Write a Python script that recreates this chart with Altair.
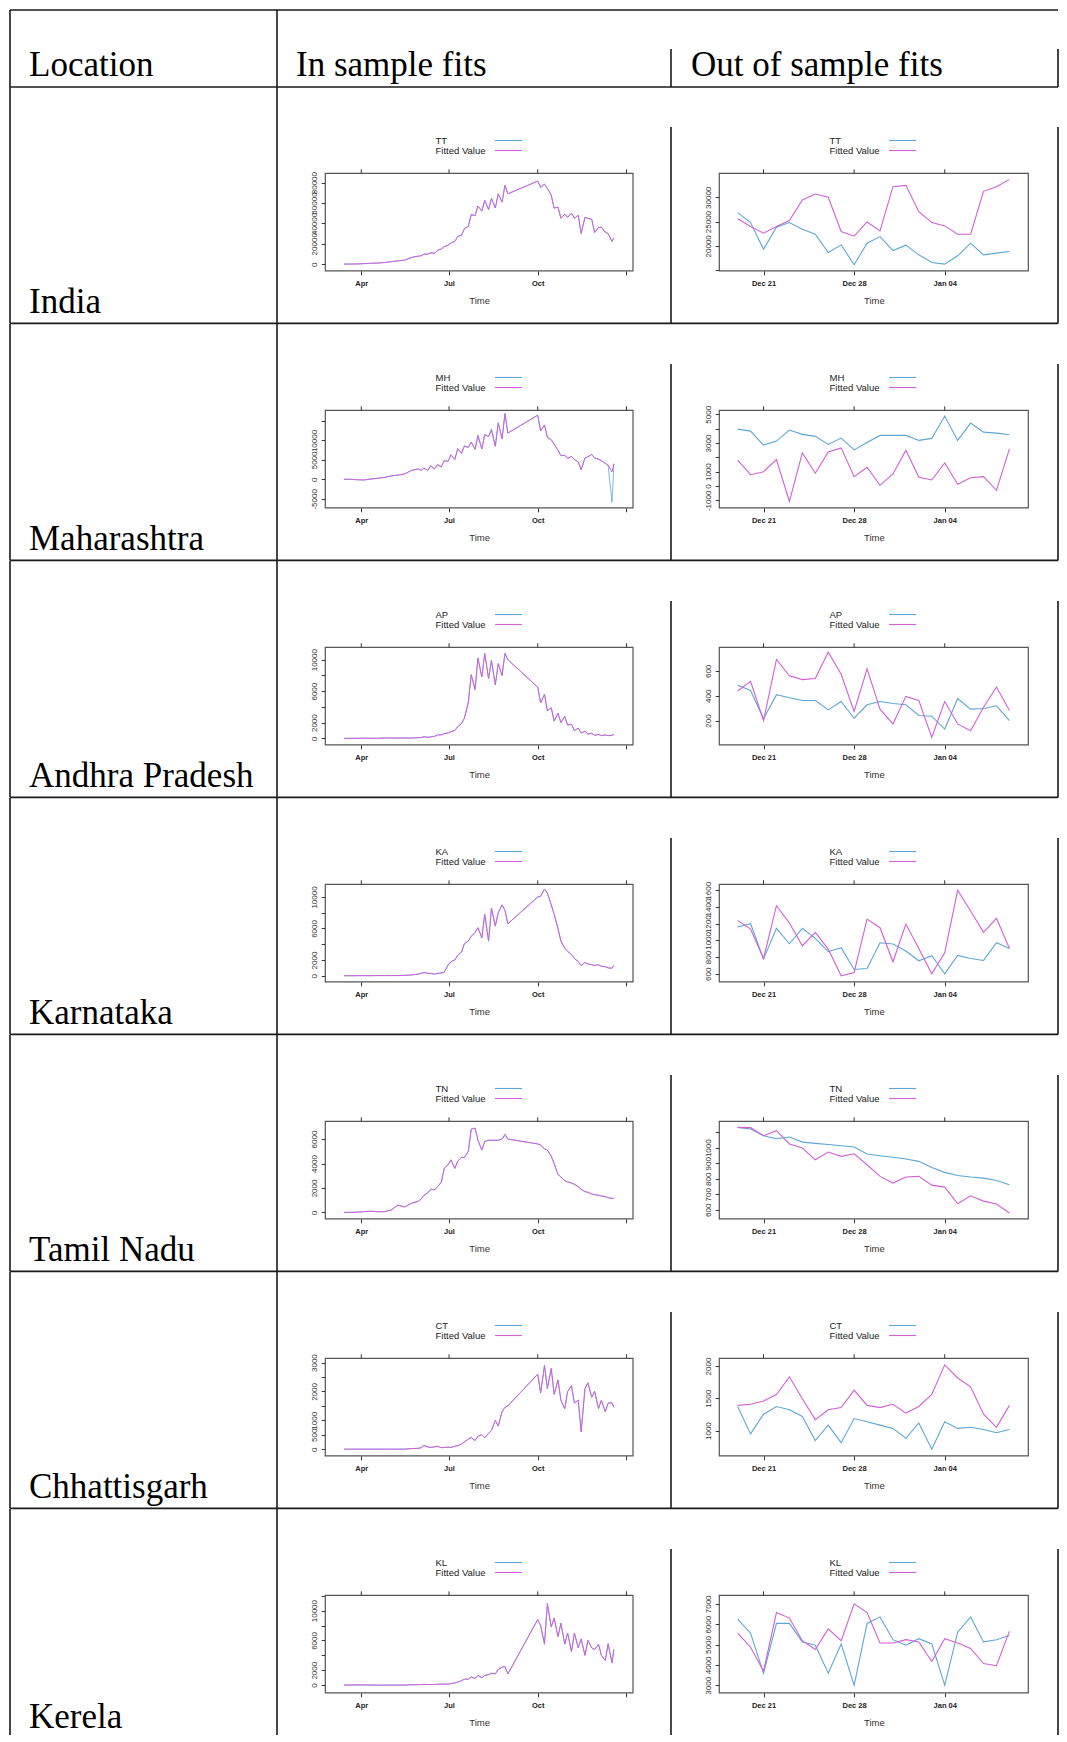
import altair as alt
import pandas as pd

# ------------------------------------------------------------------ data
IN_DATES = [
    "2020-03-14", "2020-03-21", "2020-03-28", "2020-04-04", "2020-04-11", "2020-04-18",
    "2020-04-25", "2020-05-02", "2020-05-09", "2020-05-16", "2020-05-23", "2020-05-30",
    "2020-06-02", "2020-06-05", "2020-06-09", "2020-06-12", "2020-06-16", "2020-06-19",
    "2020-06-23", "2020-06-26", "2020-06-30",
    "2020-07-03", "2020-07-07", "2020-07-10", "2020-07-14", "2020-07-17", "2020-07-21",
    "2020-07-24", "2020-07-28", "2020-07-31",
    "2020-08-04", "2020-08-07", "2020-08-11", "2020-08-14", "2020-08-18", "2020-08-21",
    "2020-08-25", "2020-08-28", "2020-08-31",
    "2020-10-01", "2020-10-04", "2020-10-08", "2020-10-11", "2020-10-15", "2020-10-18",
    "2020-10-22", "2020-10-25", "2020-10-29",
    "2020-11-01", "2020-11-05", "2020-11-08", "2020-11-12", "2020-11-15", "2020-11-19",
    "2020-11-22", "2020-11-26", "2020-11-29",
    "2020-12-03", "2020-12-06", "2020-12-10", "2020-12-13", "2020-12-17", "2020-12-19",
]
OUT_DATES = [
    "2020-12-19", "2020-12-20", "2020-12-21", "2020-12-22", "2020-12-23", "2020-12-24",
    "2020-12-25", "2020-12-26", "2020-12-27", "2020-12-28", "2020-12-29", "2020-12-30",
    "2020-12-31", "2021-01-01", "2021-01-02", "2021-01-03", "2021-01-04", "2021-01-05",
    "2021-01-06", "2021-01-07", "2021-01-08", "2021-01-09",
]

LOCATIONS = ["India", "Maharashtra", "Andhra Pradesh", "Karnataka", "Tamil Nadu",
             "Chhattisgarh", "Kerela"]
CODES = ["TT", "MH", "AP", "KA", "TN", "CT", "KL"]

# in-sample series (actual, fitted)
TT_IN_ACTUAL = [100, 150, 250, 550, 900, 1100, 1700, 2400, 3300, 4000, 6600, 7900,
                8200, 9800, 9900, 11300, 10700, 13600, 14900, 17300, 18500,
                20900, 22300, 27100, 28500, 34900, 37100, 48000, 47700, 57100,
                52000, 62500, 53600, 64500, 55100, 69000, 60900, 77300, 69000,
                81500, 75000, 78500, 74400, 67700, 55000, 56000, 45000, 49000,
                46000, 50000, 45000, 48000, 30500, 46000, 45000, 44000, 31000,
                36000, 36500, 31500, 30000, 22500, 26000]
TT_IN_FITTED = [100, 150, 250, 500, 900, 1100, 1600, 2400, 3300, 4000, 6600, 7900,
                8200, 9800, 9900, 11000, 10700, 13600, 14900, 17300, 18500,
                20900, 22300, 27100, 28500, 34900, 37100, 49000, 47700, 57100,
                52000, 62500, 53600, 64500, 55100, 69000, 60900, 77300, 69000,
                81500, 75800, 78500, 74400, 67700, 55000, 56000, 45000, 49000,
                46000, 50000, 45000, 48000, 30000, 46000, 45000, 44000, 31000,
                36000, 36000, 31500, 30000, 22000, 26000]
MH_IN_ACTUAL = [20, 30, -100, -150, 100, 300, 500, 900, 1100, 1400, 2300, 2700,
                2300, 2900, 2300, 3500, 2700, 3800, 3200, 4800, 4600,
                6300, 5100, 7900, 6700, 8600, 8200, 9600, 7700, 11500,
                7800, 11500, 11000, 13000, 8500, 14500, 10400, 16900, 11900,
                16500, 12500, 14000, 10800, 10200, 9000, 7500, 6100, 6200,
                5400, 5900, 5100, 4500, 2500, 5500, 5800, 6400, 5500,
                5200, 4800, 4100, 3700, -5900, 4000]
MH_IN_FITTED = [20, 30, -100, -150, 100, 300, 500, 900, 1100, 1400, 2300, 2700,
                2300, 2900, 2300, 3500, 2700, 3800, 3200, 4800, 4600,
                6300, 5100, 7900, 6700, 8600, 8200, 9600, 7700, 11100,
                7800, 11500, 11000, 12600, 8500, 14500, 10400, 16900, 11900,
                16500, 12500, 14000, 10800, 10200, 9000, 7500, 6100, 6200,
                5400, 5900, 5100, 4500, 2500, 5500, 5800, 6400, 5500,
                5200, 4800, 4100, 3700, 1900, 4000]
AP_IN_ACTUAL = [0, 10, 20, 30, 20, 20, 50, 60, 40, 50, 50, 100,
                120, 200, 150, 200, 300, 450, 450, 600, 700,
                850, 1000, 1500, 1900, 2600, 4700, 8100, 6200, 10200,
                7800, 10800, 7600, 9900, 6800, 9500, 8000, 10800, 10000,
                6500, 4500, 5600, 3500, 3900, 2200, 3200, 2000, 2800,
                1700, 1800, 1000, 1300, 700, 900, 550, 650, 400,
                500, 350, 450, 350, 400, 500]
AP_IN_FITTED = [0, 10, 20, 30, 20, 20, 50, 60, 40, 50, 50, 100,
                120, 200, 150, 200, 250, 450, 450, 600, 700,
                850, 1000, 1500, 1900, 2600, 4500, 8100, 6200, 10200,
                7800, 10800, 7600, 9900, 6800, 9500, 8000, 10800, 10000,
                6500, 4500, 5600, 3500, 3900, 2200, 3200, 2000, 2800,
                1700, 1800, 1000, 1300, 700, 900, 550, 650, 400,
                500, 350, 450, 350, 400, 500]
KA_IN_ACTUAL = [0, 0, 10, 10, 10, 20, 20, 20, 20, 50, 100, 200,
                300, 400, 300, 300, 200, 300, 350, 450, 1400,
                1800, 2000, 2600, 3000, 4100, 4400, 5000, 5500, 6100,
                4800, 7800, 4400, 8600, 6300, 8000, 9000, 8300, 6600,
                10000, 10100, 11000, 10500, 9000, 7800, 6000, 4400, 3500,
                3100, 2700, 2200, 1800, 1300, 1700, 1500, 1400, 1300,
                1400, 1200, 1150, 1000, 950, 1300]
KA_IN_FITTED = [0, 0, 10, 10, 10, 20, 20, 20, 20, 50, 100, 200,
                300, 400, 300, 300, 200, 300, 350, 450, 1300,
                1800, 2000, 2600, 3000, 4100, 4400, 5000, 5500, 6100,
                4800, 7800, 4400, 8600, 6300, 8000, 9000, 8300, 6600,
                10000, 10100, 11000, 10500, 9000, 7800, 6000, 4400, 3500,
                3100, 2700, 2200, 1800, 1300, 1700, 1500, 1400, 1300,
                1400, 1200, 1150, 1000, 950, 1300]
TN_IN_ACTUAL = [0, 10, 20, 70, 100, 60, 60, 200, 600, 450, 750, 900,
                1100, 1400, 1600, 1900, 1850, 2100, 2450, 3600, 3900,
                4300, 3600, 4200, 4500, 4500, 5000, 6800, 6900, 5900,
                5100, 5800, 5900, 5900, 5900, 5900, 6000, 6300, 6000,
                5600, 5500, 5200, 5100, 4600, 4000, 3100, 2900, 2600,
                2500, 2400, 2300, 2100, 1900, 1700, 1650, 1500, 1450,
                1400, 1350, 1300, 1200, 1150, 1150]
TN_IN_FITTED = [0, 10, 20, 70, 100, 60, 60, 200, 600, 450, 750, 900,
                1100, 1400, 1600, 1900, 1850, 2100, 2500, 3600, 3900,
                4300, 3600, 4200, 4500, 4500, 5000, 6800, 6900, 5900,
                5100, 5800, 5900, 5900, 5900, 5900, 6000, 6400, 6000,
                5600, 5500, 5200, 5100, 4600, 4000, 3100, 2900, 2600,
                2500, 2400, 2300, 2100, 1900, 1700, 1650, 1500, 1450,
                1400, 1350, 1300, 1200, 1150, 1150]
CT_IN_ACTUAL = [0, 0, 0, 0, 0, 0, 0, 0, 0, 0, 20, 30,
                50, 150, 80, 60, 80, 100, 50, 60, 70,
                60, 100, 120, 180, 250, 350, 420, 300, 450,
                500, 400, 550, 650, 1000, 800, 1300, 1450, 1500,
                2600, 1950, 2900, 2100, 2800, 1900, 2400, 1700, 1400,
                2000, 2200, 1600, 1700, 600, 2100, 2300, 1800, 2000,
                1400, 1700, 1300, 1600, 1600, 1450]
CT_IN_FITTED = [0, 0, 0, 0, 0, 0, 0, 0, 0, 0, 20, 30,
                50, 120, 80, 60, 80, 100, 50, 60, 70,
                60, 100, 120, 180, 250, 350, 400, 300, 450,
                500, 400, 550, 650, 1000, 800, 1300, 1450, 1500,
                2600, 1950, 2900, 2100, 2800, 1900, 2400, 1700, 1400,
                2000, 2200, 1600, 1700, 600, 2100, 2300, 1800, 2000,
                1400, 1700, 1300, 1600, 1600, 1450]
KL_IN_ACTUAL = [10, 20, 30, 20, 10, 0, 0, 0, 0, 10, 50, 60,
                80, 100, 90, 80, 80, 120, 140, 150, 130,
                200, 300, 400, 600, 800, 800, 1100, 900, 1300,
                1000, 1300, 1400, 1600, 1500, 2100, 2400, 2500, 1500,
                8800, 8000, 5500, 10800, 7800, 9000, 6500, 8300, 5500,
                7000, 4500, 7000, 5000, 6200, 4000, 6000, 5000, 4800,
                5500, 4000, 3300, 5600, 3000, 4800]
KL_IN_FITTED = [10, 20, 30, 20, 10, 0, 0, 0, 0, 10, 50, 60,
                80, 100, 90, 80, 80, 120, 140, 150, 130,
                200, 300, 400, 600, 800, 800, 1100, 900, 1300,
                1000, 1300, 1400, 1600, 1500, 2100, 2400, 2500, 1500,
                8800, 8000, 5500, 11000, 7800, 9000, 6500, 8300, 5500,
                7000, 4500, 7000, 5000, 6200, 4000, 6000, 5000, 4800,
                5500, 4000, 3300, 5500, 3000, 4800]

# out-of-sample series (actual, fitted)
TT_OUT_ACTUAL = [26850, 24800, 19300, 23840, 24800, 23400, 22400, 18630, 20200, 16100, 20550,
                 21900, 19040, 20140, 18150, 16580, 16230, 17950, 20550, 18150, 18500, 18840]
TT_OUT_FITTED = [25600, 23970, 22600, 23970, 25200, 29450, 30690, 30000, 22950, 21990, 24930,
                 23080, 32190, 32470, 27050, 24800, 24110, 22400, 22400, 31230, 32190, 33700]
MH_OUT_ACTUAL = [3970, 3830, 2850, 3130, 3900, 3600, 3460, 2900, 3340, 2520, 3040,
                 3530, 3530, 3530, 3180, 3320, 4880, 3180, 4390, 3760, 3690, 3570]
MH_OUT_FITTED = [1800, 790, 1000, 1850, -1075, 2310, 890, 2380, 2660, 650, 1310,
                 50, 840, 2500, 610, 420, 1610, 120, 580, 650, -300, 2590]
AP_OUT_ACTUAL = [484, 443, 214, 408, 384, 362, 362, 286, 354, 219, 327,
                 354, 338, 327, 241, 235, 132, 378, 292, 297, 319, 200]
AP_OUT_FITTED = [438, 516, 200, 692, 560, 530, 538, 751, 573, 273, 616,
                 292, 173, 395, 362, 65, 354, 173, 119, 308, 470, 281]
KA_OUT_ACTUAL = [1160, 1200, 776, 1144, 960, 1144, 1024, 864, 912, 652, 664,
                 972, 956, 872, 756, 816, 600, 820, 784, 760, 972, 904]
KA_OUT_FITTED = [1240, 1136, 784, 1416, 1208, 936, 1096, 896, 576, 616, 1256,
                 1152, 744, 1196, 904, 600, 852, 1600, 1352, 1096, 1264, 904]
TN_OUT_ACTUAL = [1131, 1120, 1077, 1058, 1069, 1036, 1028, 1021, 1013, 1004, 959,
                 948, 938, 927, 912, 873, 841, 821, 811, 804, 789, 761]
TN_OUT_FITTED = [1131, 1129, 1077, 1110, 1024, 998, 922, 972, 944, 961, 890,
                 815, 772, 811, 815, 759, 746, 639, 690, 656, 637, 579]
CT_OUT_ACTUAL = [1373, 949, 1254, 1373, 1322, 1220, 847, 1085, 813, 1186, 1136,
                 1085, 1034, 881, 1119, 712, 1136, 1034, 1051, 1017, 966, 1017]
CT_OUT_FITTED = [1390, 1407, 1458, 1559, 1830, 1492, 1170, 1322, 1356, 1627, 1390,
                 1356, 1407, 1271, 1373, 1559, 2017, 1814, 1678, 1254, 1051, 1390]
KL_OUT_ACTUAL = [6250, 5560, 3590, 6040, 6040, 5130, 4970, 3590, 5030, 3000, 6040,
                 6360, 5240, 4970, 5290, 5030, 3000, 5610, 6360, 5130, 5240, 5450]
KL_OUT_FITTED = [5560, 4870, 3690, 6570, 6300, 5190, 4760, 5770, 5190, 7000, 6570,
                 5080, 5080, 5240, 5130, 4170, 5290, 5080, 4810, 4070, 3960, 5660]

IN_ACTUAL = [TT_IN_ACTUAL, MH_IN_ACTUAL, AP_IN_ACTUAL, KA_IN_ACTUAL, TN_IN_ACTUAL, CT_IN_ACTUAL, KL_IN_ACTUAL]
IN_FITTED = [TT_IN_FITTED, MH_IN_FITTED, AP_IN_FITTED, KA_IN_FITTED, TN_IN_FITTED, CT_IN_FITTED, KL_IN_FITTED]
OUT_ACTUAL = [TT_OUT_ACTUAL, MH_OUT_ACTUAL, AP_OUT_ACTUAL, KA_OUT_ACTUAL, TN_OUT_ACTUAL, CT_OUT_ACTUAL, KL_OUT_ACTUAL]
OUT_FITTED = [TT_OUT_FITTED, MH_OUT_FITTED, AP_OUT_FITTED, KA_OUT_FITTED, TN_OUT_FITTED, CT_OUT_FITTED, KL_OUT_FITTED]

# axis ranges, ticks and shown labels (as in the original R plots)
IN_Y_DOMAINS = [[-6480, 89130], [-7300, 17750], [-810, 11570], [-770, 11610],
                [-520, 7450], [-230, 3150], [-1030, 12060]]
IN_Y_TICKS = [[0, 20000, 40000, 60000, 80000],
              [-5000, 0, 5000, 10000, 15000],
              [0, 2000, 4000, 6000, 8000, 10000],
              [0, 2000, 4000, 6000, 8000, 10000],
              [0, 2000, 4000, 6000],
              [0, 500, 1000, 1500, 2000, 2500, 3000],
              [0, 2000, 4000, 6000, 8000, 10000, 12000]]
IN_Y_LABELS = [[0, 20000, 40000, 60000, 80000],
               [-5000, 0, 5000, 10000],
               [0, 2000, 6000, 10000],
               [0, 2000, 6000, 10000],
               [0, 2000, 4000, 6000],
               [0, 500, 1000, 2000, 3000],
               [0, 2000, 6000, 10000]]
OUT_Y_DOMAINS = [[14860, 34950], [-1520, 5280], [5, 790], [504, 1672],
                 [542, 1170], [610, 2119], [2630, 7420]]
OUT_Y_TICKS = [[15000, 20000, 25000, 30000],
               [-1000, 0, 1000, 2000, 3000, 4000, 5000],
               [200, 400, 600],
               [600, 800, 1000, 1200, 1400, 1600],
               [600, 700, 800, 900, 1000, 1100],
               [1000, 1500, 2000],
               [3000, 4000, 5000, 6000, 7000]]
OUT_Y_LABELS = [[20000, 25000, 30000],
                [-1000, 0, 1000, 3000, 5000],
                [200, 400, 600],
                [600, 800, 1000, 1200, 1400, 1600],
                [600, 700, 800, 900, 1000],
                [1000, 1500, 2000],
                [3000, 4000, 5000, 6000, 7000]]

IN_X_TICK_DATES = ["2020-04-01", "2020-07-01", "2020-10-01", "2021-01-01"]
OUT_X_TICK_DATES = ["2020-12-21", "2020-12-28", "2021-01-04"]

# ------------------------------------------------------------------ style / layout
SANS = "Liberation Sans"
SERIF = "Liberation Serif"
BLUE = "#5ea6d6"
MAGENTA = "#d260d8"
GRID = "#1a1a1a"
INK = "#333333"

COL_W = [267, 394, 387]
HEAD_H = 77
ROW_H = 236.4
LAST_H = 226.0
BOX_X0 = 48.3
BOX_X1_IN = 356.0
BOX_X1_OUT = 357.3
BOX_Y0 = 86.3
BOX_Y1 = 183.8
LEG_TX = 158.5
LEG_LX0, LEG_LX1 = 218, 245
LEG_Y = [53.5, 63.5]
BIG = 35

DUMMY = pd.DataFrame({"k": [0]})


def dtm(s, hours=0):
    y, m, d = (int(p) for p in s.split("-"))
    return alt.DateTime(year=y, month=m, date=d, hours=hours)


IN_X_DOMAIN = [dtm("2020-02-23", 16), dtm("2021-01-07", 19)]
OUT_X_DOMAIN = [dtm("2020-12-17", 14), dtm("2021-01-10", 11)]


def vline(x, y0, y1):
    return alt.Chart(DUMMY).mark_rule(color=GRID, strokeWidth=1.6).encode(
        x=alt.value(x), y=alt.value(y0), y2=alt.value(y1))


def hline(y, x0, x1):
    return alt.Chart(DUMMY).mark_rule(color=GRID, strokeWidth=1.6).encode(
        x=alt.value(x0), x2=alt.value(x1), y=alt.value(y))


def text_layer(txt, x, y, font, size, align="left", baseline="alphabetic", color="black"):
    return alt.Chart(DUMMY).mark_text(text=txt, align=align, baseline=baseline, font=font,
                                      fontSize=size, color=color).encode(
        x=alt.value(x), y=alt.value(y))


def plot_cell(width, height, code, dates, actual, fitted, xdom, tick_dates, xfmt, hide_jan,
              x1, ydom, yticks, ylabels, sw_a, sw_f, right_col, bottom_line):
    xscale = alt.Scale(domain=xdom, range=[BOX_X0, x1], nice=False)
    yscale = alt.Scale(domain=ydom, range=[BOX_Y1, BOX_Y0], nice=False, zero=False)
    xkw = dict(orient="bottom", offset=-(height - BOX_Y1),
               values=[dtm(d) for d in tick_dates], format=xfmt,
               tickSize=4, tickColor=INK, tickWidth=1, domain=False, grid=False,
               labelFont=SANS, labelFontSize=7.5, labelFontWeight="bold",
               labelColor="#222222", labelPadding=5,
               labelFlush=False, labelOverlap=False,
               title="Time", titleFont=SANS, titleFontSize=9.5, titleColor=INK,
               titleFontWeight="normal", titleX=(BOX_X0 + x1) / 2, titleY=29.5,
               titleAlign="center", titleBaseline="middle")
    if hide_jan:
        xkw["labelExpr"] = "month(datum.value) == 0 ? '' : datum.label"
    xaxis = alt.Axis(**xkw)
    yaxis = alt.Axis(orient="left", offset=-BOX_X0, values=yticks,
                     labelExpr="indexof(%s, datum.value) >= 0 ? '' + datum.value : ''" % str(ylabels),
                     labelAngle=270, labelAlign="center", labelBaseline="bottom",
                     tickSize=4, tickColor=INK, tickWidth=1, domain=False, grid=False,
                     labelFont=SANS, labelFontSize=8, labelColor=INK, labelPadding=3,
                     labelFlush=False, labelOverlap=False, title=None)

    df_a = pd.DataFrame({"date": pd.to_datetime(dates), "value": actual})
    df_f = pd.DataFrame({"date": pd.to_datetime(dates), "value": fitted})
    df_t = pd.DataFrame({"t": pd.to_datetime(tick_dates)})

    box = alt.Chart(DUMMY).mark_rect(fillOpacity=0, stroke="#555555", strokeWidth=1.2).encode(
        x=alt.XDatum(xdom[0], type="temporal", scale=xscale, axis=xaxis),
        x2=alt.X2Datum(xdom[1]),
        y=alt.YDatum(ydom[0], type="quantitative", scale=yscale, axis=yaxis),
        y2=alt.Y2Datum(ydom[1]))
    top_ticks = alt.Chart(df_t).mark_rule(color=INK, strokeWidth=1, y2Offset=-4).encode(
        x=alt.X("t:T", scale=xscale, axis=xaxis),
        y=alt.YDatum(ydom[1], type="quantitative", scale=yscale, axis=yaxis),
        y2=alt.Y2Datum(ydom[1]))
    line_a = alt.Chart(df_a).mark_line(color=BLUE, strokeWidth=sw_a).encode(
        x=alt.X("date:T", scale=xscale, axis=xaxis),
        y=alt.Y("value:Q", scale=yscale, axis=yaxis))
    line_f = alt.Chart(df_f).mark_line(color=MAGENTA, strokeWidth=sw_f).encode(
        x=alt.X("date:T", scale=xscale, axis=xaxis),
        y=alt.Y("value:Q", scale=yscale, axis=yaxis))

    leg = [
        text_layer(code, LEG_TX, LEG_Y[0], SANS, 9.5, baseline="middle", color="#222222"),
        text_layer("Fitted Value", LEG_TX, LEG_Y[1], SANS, 9.5, baseline="middle", color="#222222"),
        alt.Chart(DUMMY).mark_rule(color=BLUE, strokeWidth=1.1).encode(
            x=alt.value(LEG_LX0), x2=alt.value(LEG_LX1), y=alt.value(LEG_Y[0])),
        alt.Chart(DUMMY).mark_rule(color=MAGENTA, strokeWidth=1.1).encode(
            x=alt.value(LEG_LX0), x2=alt.value(LEG_LX1), y=alt.value(LEG_Y[1])),
    ]
    borders = [hline(height, 0, width)] if bottom_line else []
    if right_col:
        borders += [vline(0, 40, height), vline(width, 40, height)]
    else:
        borders += [vline(0, 0, height)]
    return alt.layer(*borders, box, top_ticks, line_a, line_f, *leg).properties(
        width=width, height=height)


def label_cell(width, height, txt, bottom_line, base_gap):
    layers = [vline(0, 0, height)]
    if bottom_line:
        layers.append(hline(height, 0, width))
    layers.append(text_layer(txt, 19, height - base_gap, SERIF, BIG))
    return alt.layer(*layers).properties(width=width, height=height)


def header_cell(width, txt, xoff, partial):
    layers = [hline(0, 0, width), hline(HEAD_H, 0, width)]
    if partial:
        layers += [vline(0, 39, HEAD_H), vline(width, 39, HEAD_H)]
    else:
        layers += [vline(0, 0, HEAD_H)]
    layers.append(text_layer(txt, xoff, HEAD_H - 11, SERIF, BIG))
    return alt.layer(*layers).properties(width=width, height=HEAD_H)


cells = [header_cell(COL_W[0], "Location", 19, False),
         header_cell(COL_W[1], "In sample fits", 19, False),
         header_cell(COL_W[2], "Out of sample fits", 20, True)]

n = len(LOCATIONS)
for i, loc in enumerate(LOCATIONS):
    last = i == n - 1
    h = LAST_H if last else ROW_H
    cells.append(label_cell(COL_W[0], h, loc, not last, 7.5 if last else 10))
    cells.append(plot_cell(COL_W[1], h, CODES[i], IN_DATES, IN_ACTUAL[i], IN_FITTED[i],
                           IN_X_DOMAIN, IN_X_TICK_DATES, "%b", True, BOX_X1_IN,
                           IN_Y_DOMAINS[i], IN_Y_TICKS[i], IN_Y_LABELS[i], 0.8, 1.0, False,
                           not last))
    cells.append(plot_cell(COL_W[2], h, CODES[i], OUT_DATES, OUT_ACTUAL[i], OUT_FITTED[i],
                           OUT_X_DOMAIN, OUT_X_TICK_DATES, "%b %d", False, BOX_X1_OUT,
                           OUT_Y_DOMAINS[i], OUT_Y_TICKS[i], OUT_Y_LABELS[i], 1.1, 1.1, True,
                           not last))

chart = alt.concat(*cells, columns=3, spacing=0, bounds="flush").resolve_scale(
    x="independent", y="independent"
).properties(
    padding={"left": 1, "top": 1, "right": 0, "bottom": 0},
    background="white",
).configure_view(strokeWidth=0)

chart.save("out.html", embed_options={"renderer": "svg", "actions": False})
